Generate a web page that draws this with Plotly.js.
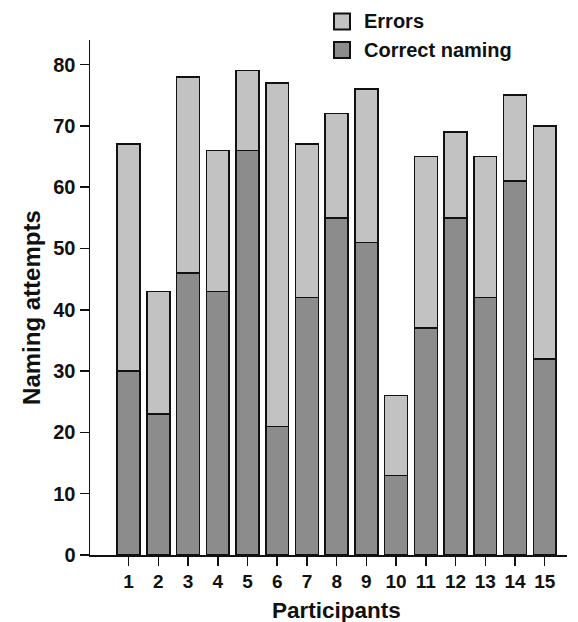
<!DOCTYPE html>
<html>
<head>
<meta charset="utf-8">
<script src="https://cdn.plot.ly/plotly-3.0.1.min.js"></script>
<style>html,body{margin:0;padding:0;background:#fff;}#chart{width:578px;height:622px;}</style>
</head>
<body>
<div id="chart"></div>
<script>
const participants = [1,2,3,4,5,6,7,8,9,10,11,12,13,14,15];
const correctNaming = [30,23,46,43,66,21,42,55,51,13,37,55,42,61,32];
const totalAttempts = [67,43,78,66,79,77,67,72,76,26,65,69,65,75,70];
const errors = totalAttempts.map((t,i)=>t-correctNaming[i]);
const yTicks = [0,10,20,30,40,50,60,70,80];

const FAM = '"Liberation Sans", Arial, sans-serif';
const INK = '#111';
const COL_CORRECT = '#8c8c8c';
const COL_ERRORS = '#c2c2c2';

// plot area in pixels
const L = 90, R = 11, T = 40, B = 67, W = 578, H = 622;
const pw = W - L - R, ph = H - T - B;
const px = p => (p - L) / pw;           // pixel x -> paper x
const py = p => (H - B - p) / ph;        // pixel y -> paper y

const traces = [
  {type:'bar', name:'Correct naming', x:participants, y:correctNaming, showlegend:false,
   marker:{color:COL_CORRECT, line:{color:INK, width:1.5}}, width:0.77},
  {type:'bar', name:'Errors', x:participants, y:errors, showlegend:false,
   marker:{color:COL_ERRORS, line:{color:INK, width:1.5}}, width:0.77}
];

const legendItems = [
  {label:'Errors', color:COL_ERRORS, cy:21.5},
  {label:'Correct naming', color:COL_CORRECT, cy:50}
];

const shapes = legendItems.map(it => ({
  type:'rect', xref:'paper', yref:'paper',
  x0:px(334), x1:px(350), y0:py(it.cy+8), y1:py(it.cy-8),
  fillcolor:it.color, line:{color:INK, width:2}
}));

const annotations = legendItems.map(it => ({
  xref:'paper', yref:'paper', x:px(362), y:py(it.cy), xanchor:'left', yanchor:'middle',
  text:it.label, showarrow:false,
  font:{family:FAM, size:20, color:INK, weight:'bold'}
}));
annotations.push({
  xref:'x', yref:'paper', x:8, y:py(610), xanchor:'center', yanchor:'middle',
  text:'Participants', showarrow:false,
  font:{family:FAM, size:22.5, color:INK, weight:'bold'}
});
annotations.push({
  xref:'paper', yref:'y', x:px(32), y:40.3, xanchor:'center', yanchor:'middle', textangle:-90,
  text:'Naming attempts', showarrow:false,
  font:{family:FAM, size:24, color:INK, weight:'bold'}
});

const layout = {
  width:W, height:H,
  margin:{l:L, r:R, t:T, b:B},
  barmode:'stack',
  paper_bgcolor:'#fff', plot_bgcolor:'#fff',
  font:{family:FAM, size:20, color:INK, weight:'bold'},
  showlegend:false,
  shapes:shapes,
  annotations:annotations,
  xaxis:{range:[-0.3,15.75], tickvals:participants, ticktext:participants.map(String),
         showline:true, linecolor:INK, linewidth:1.5, ticks:'outside', ticklen:9, tickwidth:1.5, tickcolor:INK,
         tickfont:{family:FAM, size:19, color:INK, weight:'bold'},
         showgrid:false, zeroline:false},
  yaxis:{range:[0,84], tickvals:yTicks,
         showline:true, linecolor:INK, linewidth:1.5, ticks:'outside', ticklen:9, tickwidth:1.5, tickcolor:INK,
         tickfont:{family:FAM, size:20, color:INK, weight:'bold'},
         showgrid:false, zeroline:false}
};

Plotly.newPlot('chart', traces, layout, {staticPlot:true, displayModeBar:false});
</script>
</body>
</html>
